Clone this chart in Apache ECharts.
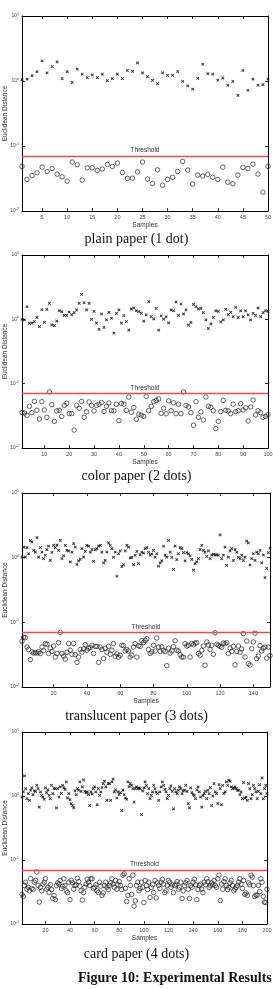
<!DOCTYPE html>
<html>
<head>
<meta charset="utf-8">
<script src="https://cdn.jsdelivr.net/npm/echarts@6/dist/echarts.min.js"></script>
<style>
  html,body{margin:0;padding:0;background:#fff;}
  #chart{width:273px;height:989px;}
</style>
</head>
<body>
<div id="chart"></div>
<script>
// plain paper (1 dot)
var plainCross = [1.05, 1.07, 1.21, 1.39, 2.04, 1.33, 1.67, 1.97, 1.09, 1.39,
  0.95, 1.52, 1.28, 1.13, 1.24, 1.13, 1.28, 1.01, 1.09, 1.28,
  1.09, 1.45, 1.41, 1.90, 1.33, 1.17, 1.02, 0.91, 1.33, 1.22,
  1.22, 1.40, 0.99, 0.84, 0.75, 1.10, 1.81, 1.30, 1.28, 1.03,
  1.12, 0.86, 0.99, 0.60, 1.45, 0.72, 1.07, 0.86, 0.88, 1.07];
var plainCircle = [0.0485, 0.0306, 0.0352, 0.0387, 0.0473, 0.0405, 0.0451, 0.0369, 0.0336, 0.0288,
  0.0567, 0.0515, 0.0298, 0.0462, 0.0462, 0.0421, 0.0442, 0.052, 0.0485, 0.0546,
  0.0392, 0.0317, 0.032, 0.040, 0.0567, 0.031, 0.0265, 0.043, 0.025, 0.0306,
  0.033, 0.0405, 0.058, 0.0425, 0.026, 0.0357, 0.0345, 0.0365, 0.033, 0.0306,
  0.0473, 0.0277, 0.0262, 0.0357, 0.0468, 0.0451, 0.0526, 0.0369, 0.0195, 0.0485];

// color paper (2 dots)
var colorCross = [1.0, 0.98, 1.57, 0.87, 0.87, 0.92, 1.07, 0.77, 1.41, 0.90,
  1.43, 1.77, 0.82, 0.80, 0.94, 1.36, 1.32, 1.15, 1.15, 1.30,
  1.18, 1.27, 1.40, 1.77, 2.44, 1.81, 1.40, 1.77, 1.0, 1.33,
  0.87, 0.70, 1.21, 0.75, 0.98, 1.28, 1.04, 0.61, 1.24, 1.40,
  0.87, 1.14, 0.92, 0.68, 1.45, 1.50, 1.36, 1.32, 1.24, 0.94,
  1.17, 1.88, 1.10, 1.02, 1.48, 0.68, 1.13, 1.01, 1.09, 0.88,
  1.40, 1.36, 1.86, 1.15, 1.73, 1.21, 1.40, 0.81, 0.90, 1.71,
  1.57, 1.45, 1.48, 1.27, 0.98, 0.72, 0.85, 1.07, 1.36, 1.33,
  0.91, 0.98, 1.43, 1.18, 1.28, 1.10, 1.54, 1.07, 1.36, 1.10,
  1.35, 1.17, 0.98, 1.24, 1.15, 1.50, 1.10, 1.27, 1.36, 1.33];
var colorCircle = [0.0355, 0.035, 0.0323, 0.0445, 0.0355, 0.053, 0.0386, 0.0283, 0.0525, 0.039,
  0.030, 0.0743, 0.047, 0.026, 0.0377, 0.0386, 0.031, 0.046, 0.0495, 0.0342,
  0.0342, 0.019, 0.046, 0.0415, 0.053, 0.030, 0.0365, 0.052, 0.046, 0.0377,
  0.046, 0.048, 0.051, 0.037, 0.0445, 0.05, 0.038, 0.0377, 0.048, 0.0267,
  0.0495, 0.048, 0.0386, 0.062, 0.036, 0.0425, 0.028, 0.0335, 0.0323, 0.031,
  0.0635, 0.038, 0.0445, 0.0525, 0.055, 0.058, 0.0345, 0.0415, 0.034, 0.054,
  0.038, 0.0505, 0.0342, 0.048, 0.0342, 0.0743, 0.046, 0.0435, 0.0355, 0.0226,
  0.0525, 0.030, 0.0365, 0.0273, 0.062, 0.0445, 0.043, 0.038, 0.020, 0.026,
  0.0368, 0.055, 0.0386, 0.0377, 0.0342, 0.048, 0.0368, 0.038, 0.0488, 0.039,
  0.042, 0.0263, 0.0435, 0.0557, 0.0326, 0.038, 0.0355, 0.030, 0.031, 0.033];

// translucent paper (3 dots)
var transCross = [1.02, 1.46, 1.02, 1.43, 1.15, 1.84, 1.75, 1.30, 1.22, 2.04,
  1.02, 1.43, 1.22, 0.965, 1.09, 1.33, 1.51, 0.91, 1.21, 1.55,
  1.43, 1.57, 1.30, 1.85, 0.965, 1.07, 1.55, 1.30, 1.27, 0.86,
  1.22, 1.65, 1.46, 0.79, 0.89, 0.94, 1.38, 1.02, 1.25, 1.55,
  1.51, 1.22, 1.33, 0.88, 1.33, 1.38, 1.51, 1.55, 1.22, 0.83,
  0.91, 1.22, 1.69, 1.55, 1.38, 1.02, 1.22, 0.52, 1.15, 1.27,
  0.73, 0.78, 1.27, 1.55, 1.46, 0.99, 1.01, 0.78, 1.09, 1.25,
  0.81, 1.11, 1.22, 1.18, 1.38, 1.43, 1.21, 1.09, 1.14, 1.30,
  1.02, 1.15, 0.74, 0.83, 0.89, 1.51, 1.09, 1.02, 1.85, 1.22,
  1.01, 0.66, 1.51, 0.93, 1.15, 1.43, 1.38, 1.20, 0.89, 1.20,
  1.15, 1.07, 0.94, 0.64, 0.81, 0.86, 0.965, 1.33, 1.55, 1.30,
  1.22, 1.05, 1.27, 0.965, 1.10, 1.13, 1.10, 1.11, 1.09, 2.25,
  0.965, 1.09, 1.46, 0.76, 1.02, 1.27, 1.38, 0.91, 1.33, 1.22,
  1.01, 0.965, 1.09, 0.91, 1.02, 1.80, 1.69, 0.77, 0.965, 1.15,
  0.91, 1.22, 1.15, 1.30, 0.83, 1.10, 0.49, 0.68, 1.20, 1.40];
var transCircle = [0.051, 0.059, 0.058, 0.0415, 0.038, 0.0265, 0.035, 0.0335, 0.034, 0.0335,
  0.035, 0.033, 0.0415, 0.0365, 0.0468, 0.0458, 0.033, 0.04, 0.0355, 0.043,
  0.029, 0.033, 0.0485, 0.07, 0.033, 0.030, 0.027, 0.0345, 0.047, 0.037,
  0.032, 0.047, 0.0316, 0.024, 0.029, 0.038, 0.0345, 0.0388, 0.045, 0.037,
  0.0397, 0.0407, 0.0442, 0.033, 0.0425, 0.0425, 0.024, 0.0415, 0.038, 0.0275,
  0.0397, 0.0345, 0.0425, 0.032, 0.037, 0.0468, 0.030, 0.0325, 0.029, 0.031,
  0.0442, 0.0437, 0.036, 0.038, 0.036, 0.029, 0.031, 0.0415, 0.0468, 0.029,
  0.0437, 0.0425, 0.052, 0.0485, 0.0526, 0.0558, 0.038, 0.033, 0.035, 0.0442,
  0.036, 0.0573, 0.0415, 0.0355, 0.042, 0.037, 0.0355, 0.0214, 0.04, 0.0334,
  0.036, 0.042, 0.052, 0.037, 0.036, 0.0316, 0.029, 0.029, 0.0468, 0.043,
  0.0442, 0.029, 0.047, 0.045, 0.0478, 0.0485, 0.033, 0.031, 0.037, 0.043,
  0.0217, 0.0497, 0.045, 0.038, 0.0442, 0.032, 0.069, 0.0458, 0.0442, 0.0425,
  0.041, 0.0478, 0.0468, 0.0485, 0.033, 0.04, 0.0355, 0.0425, 0.022, 0.0355,
  0.043, 0.0345, 0.0388, 0.067, 0.029, 0.0514, 0.023, 0.0218, 0.039, 0.0497,
  0.068, 0.0275, 0.030, 0.0437, 0.036, 0.0397, 0.0415, 0.028, 0.0415, 0.0305];

// card paper (4 dots)
var cardCross = [0.965, 1.16, 2.06, 1.30, 0.91, 1.09, 0.855, 1.23, 1.34, 1.05, 1.20,
  1.18, 1.47, 1.30, 0.67, 1.16, 1.02, 0.965, 0.89, 1.34, 1.13, 1.25,
  1.02, 0.91, 1.47, 1.09, 1.30, 1.30, 0.65, 1.30, 0.965, 1.39, 1.10,
  1.47, 1.34, 1.27, 1.66, 0.93, 1.09, 0.875, 0.76, 0.71, 0.65, 1.20,
  1.05, 1.30, 1.23, 1.66, 1.18, 1.39, 1.78, 1.18, 1.13, 1.16, 1.05,
  0.71, 1.16, 1.07, 1.30, 1.39, 1.16, 0.73, 1.30, 1.02, 1.16, 1.35,
  1.56, 1.70, 1.39, 0.855, 1.56, 1.56, 0.855, 1.66, 1.83, 1.16, 1.25,
  0.93, 1.16, 1.05, 1.13, 0.59, 1.23, 1.05, 0.93, 0.89, 1.66, 1.40,
  1.56, 1.47, 1.30, 0.805, 1.30, 1.39, 1.30, 1.34, 1.30, 0.51, 1.20,
  1.34, 1.66, 1.47, 1.09, 1.30, 0.91, 1.02, 1.16, 1.47, 1.30, 1.15,
  1.09, 0.855, 1.16, 1.39, 1.66, 1.47, 1.27, 1.16, 0.91, 1.02, 1.30,
  1.44, 1.18, 0.63, 1.30, 1.16, 1.09, 1.23, 1.39, 1.30, 1.09, 1.20,
  1.23, 1.47, 1.18, 0.76, 0.65, 1.34, 1.13, 1.05, 1.02, 0.91, 1.25,
  1.39, 1.16, 0.965, 0.67, 1.02, 1.09, 1.18, 0.91, 1.23, 1.09, 1.35,
  0.71, 1.0, 1.56, 1.16, 1.09, 0.76, 1.51, 1.30, 0.73, 1.47, 1.10,
  1.16, 1.66, 1.47, 1.76, 1.70, 1.39, 1.30, 1.34, 1.39, 1.30,
  1.23, 1.23, 1.05, 1.16, 0.91, 1.62, 0.93, 0.965, 0.855, 1.56,
  1.30, 0.91, 1.05, 1.47, 1.30, 1.16, 0.91, 1.18, 1.51, 1.09,
  1.92, 0.91, 1.30, 1.47, 1.09];
var cardCircle = [0.029, 0.027, 0.040, 0.045, 0.035, 0.0375, 0.033, 0.051, 0.036, 0.0345,
  0.045, 0.048, 0.065, 0.040, 0.022, 0.0375, 0.033, 0.042, 0.045, 0.051,
  0.035, 0.0375, 0.031, 0.041, 0.0345, 0.025, 0.028, 0.024, 0.040, 0.044,
  0.042, 0.048, 0.036, 0.039, 0.051, 0.040, 0.033, 0.031, 0.045, 0.024,
  0.048, 0.044, 0.035, 0.040, 0.041, 0.052, 0.046, 0.039, 0.033, 0.0236,
  0.031, 0.0375, 0.042, 0.050, 0.045, 0.040, 0.051, 0.051, 0.036, 0.0375,
  0.041, 0.033, 0.031, 0.045, 0.039, 0.028, 0.0305, 0.040, 0.045, 0.0375,
  0.0345, 0.040, 0.044, 0.051, 0.042, 0.0375, 0.048, 0.035, 0.041, 0.046,
  0.040, 0.0345, 0.058, 0.061, 0.036, 0.0225, 0.028, 0.051, 0.040, 0.029,
  0.058, 0.019, 0.023, 0.040, 0.045, 0.033, 0.036, 0.045, 0.0375, 0.0216,
  0.048, 0.040, 0.0345, 0.045, 0.026, 0.0375, 0.041, 0.031, 0.048, 0.0255,
  0.044, 0.040, 0.036, 0.045, 0.050, 0.042, 0.031, 0.033, 0.040, 0.048,
  0.045, 0.0375, 0.041, 0.031, 0.040, 0.042, 0.046, 0.035, 0.0375, 0.045,
  0.025, 0.033, 0.040, 0.044, 0.048, 0.035, 0.025, 0.040, 0.0375, 0.045,
  0.050, 0.041, 0.024, 0.0345, 0.040, 0.042, 0.035, 0.031, 0.045, 0.041,
  0.051, 0.046, 0.0375, 0.040, 0.044, 0.041, 0.048, 0.040, 0.0375, 0.051,
  0.058, 0.0233, 0.042, 0.035, 0.046, 0.051, 0.040, 0.0345, 0.0375, 0.044,
  0.048, 0.040, 0.033, 0.035, 0.0375, 0.040, 0.045, 0.051, 0.042, 0.036,
  0.048, 0.029, 0.0305, 0.028, 0.044, 0.041, 0.058, 0.054, 0.040, 0.027,
  0.0284, 0.028, 0.040, 0.032, 0.051, 0.045, 0.027, 0.022, 0.0216, 0.035];

var threshold = 0.07;
var xMax = [50, 100, 150, 200];
var xTicks = [
  [5, 10, 15, 20, 25, 30, 35, 40, 45, 50],
  [10, 20, 30, 40, 50, 60, 70, 80, 90, 100],
  [20, 40, 60, 80, 100, 120, 140],
  [20, 40, 60, 80, 100, 120, 140, 160, 180, 200]
];
var captions = ['plain paper (1 dot)', 'color paper (2 dots)', 'translucent paper (3 dots)', 'card paper (4 dots)'];
var captionY = [240, 477, 717, 955];
var crosses = [plainCross, colorCross, transCross, cardCross];
var circles = [plainCircle, colorCircle, transCircle, cardCircle];

var grids = [
  {left: 22, top: 16, width: 246, height: 195},
  {left: 22, top: 255, width: 246, height: 193},
  {left: 22, top: 493, width: 248, height: 194},
  {left: 22, top: 732, width: 245, height: 192}
];
grids.forEach(function (g) { g.containLabel = false; g.outerBoundsMode = 'none'; });

var sans = 'Liberation Sans';
// fat little x so it reads as a dark blob like the print
var crossPath = 'path://M0,2L2,0L5,3L8,0L10,2L7,5L10,8L8,10L5,7L2,10L0,8L3,5Z';

var xAxes = [], yAxes = [], series = [], graphics = [];
for (var i = 0; i < 4; i++) {
  var line = {show: true, onZero: false, lineStyle: {color: '#000', width: 1}};
  xAxes.push({
    gridIndex: i, type: 'value', min: 1, max: xMax[i], position: 'bottom',
    axisLine: line,
    axisTick: {show: true, inside: true, length: 3, customValues: xTicks[i], lineStyle: {color: '#000', width: 0.8}},
    axisLabel: {customValues: xTicks[i], fontSize: 5.5, color: '#444', margin: 3, fontFamily: sans},
    splitLine: {show: false},
    name: 'Samples', nameLocation: 'middle', nameGap: 11, nameMoveOverlap: false,
    nameTextStyle: {fontSize: 6.5, color: '#333', fontFamily: sans}
  });
  xAxes.push({
    gridIndex: i, type: 'value', min: 1, max: xMax[i], position: 'top',
    axisLine: line,
    axisTick: {show: true, inside: true, length: 3, customValues: xTicks[i], lineStyle: {color: '#000', width: 0.8}},
    axisLabel: {show: false}, splitLine: {show: false}
  });
  yAxes.push({
    gridIndex: i, type: 'log', logBase: 10, min: 0.01, max: 10, position: 'left',
    axisLine: line,
    axisTick: {show: true, inside: true, length: 3, lineStyle: {color: '#000', width: 0.8}},
    axisLabel: {
      fontFamily: sans, margin: 3, showMinLabel: true, showMaxLabel: true,
      formatter: function (v) { return '{b|10}{e|' + Math.round(Math.log10(v)) + '}'; },
      rich: {
        b: {fontSize: 5, color: '#444', fontFamily: sans, lineHeight: 8},
        e: {fontSize: 3.6, color: '#444', fontFamily: sans, verticalAlign: 'top', lineHeight: 8}
      }
    },
    splitLine: {show: false},
    name: 'Euclidean Distance', nameLocation: 'middle', nameGap: 13, nameRotate: 90,
    nameMoveOverlap: false,
    nameTextStyle: {fontSize: 6.5, color: '#333', fontFamily: sans}
  });
  yAxes.push({
    gridIndex: i, type: 'log', logBase: 10, min: 0.01, max: 10, position: 'right',
    axisLine: line,
    axisTick: {show: true, inside: true, length: 3, lineStyle: {color: '#000', width: 0.8}},
    axisLabel: {show: false}, splitLine: {show: false}
  });

  series.push({
    type: 'scatter', xAxisIndex: 2 * i, yAxisIndex: 2 * i,
    data: crosses[i].map(function (v, k) { return [k + 1, v]; }),
    symbol: crossPath, symbolSize: 3.2,
    itemStyle: {color: '#000'}, silent: true
  });
  series.push({
    type: 'scatter', xAxisIndex: 2 * i, yAxisIndex: 2 * i,
    data: circles[i].map(function (v, k) { return [k + 1, v]; }),
    symbol: 'circle', symbolSize: 4.5,
    itemStyle: {color: 'rgba(0,0,0,0)', borderColor: '#111', borderWidth: 0.8},
    silent: true,
    markLine: {
      silent: true, symbol: 'none', animation: false,
      lineStyle: {color: '#f04a4a', width: 1.3, type: 'solid'},
      label: {show: true, position: 'middle', formatter: 'Threshold', distance: 2,
        fontSize: 6.5, color: '#333', fontFamily: sans},
      data: [{yAxis: threshold}]
    }
  });

  graphics.push({
    type: 'text', left: 'center', top: captionY[i] - 8,
    style: {text: captions[i], font: '14px "Liberation Serif"', fill: '#111'}
  });
}
graphics.push({
  type: 'text', left: 78, top: 971,
  style: {text: 'Figure 10: Experimental Results', font: 'bold 14px "Liberation Serif"', fill: '#111'}
});

var myChart = echarts.init(document.getElementById('chart'));
var option = {
  animation: false,
  backgroundColor: '#fff',
  grid: grids,
  xAxis: xAxes,
  yAxis: yAxes,
  series: series,
  graphic: graphics
};
myChart.setOption(option);
</script>
</body>
</html>
